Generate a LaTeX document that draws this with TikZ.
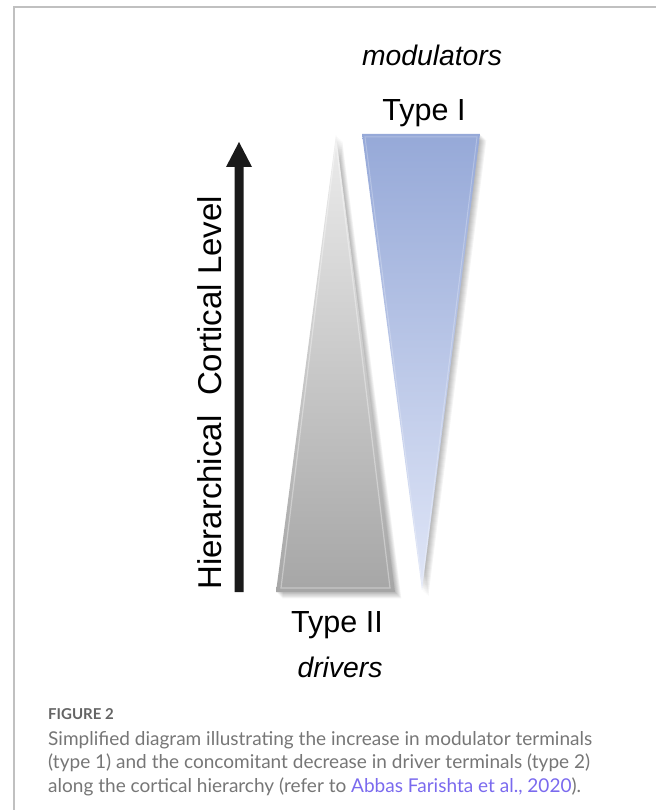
\documentclass[tikz,border=0pt]{standalone}
\usepackage{fontspec}
\setmainfont{Liberation Sans}
\newfontfamily\capfont{Lato}
\usetikzlibrary{calc}
\definecolor{bordergray}{RGB}{192,192,192}
\definecolor{arrowblack}{RGB}{26,26,26}
\definecolor{graytop}{RGB}{236,236,236}
\definecolor{graybot}{RGB}{166,166,166}
\definecolor{bluetop}{RGB}{150,169,216}
\definecolor{bluebot}{RGB}{224,230,247}
\definecolor{captext}{RGB}{118,118,118}
\definecolor{capfig}{RGB}{100,100,100}
\definecolor{linkcol}{RGB}{122,106,238}
\newlength\capwone
\settowidth\capwone{\capfont\fontsize{10}{12}\selectfont Simplified diagram illustrating the increase in modulator terminals}
\pgfmathsetmacro\capsize{10*544/\capwone}
\tikzset{
  lbl/.style={font=\fontsize{30.5}{34}\selectfont, text=black, inner sep=0pt},
  itlbl/.style={font=\fontsize{28.3}{32}\selectfont\itshape, text=black, inner sep=0pt},
  caption/.style={font=\capfont\fontsize{\capsize}{22}\selectfont, text=captext, inner sep=0pt, anchor=base west},
}
\begin{document}
\begin{tikzpicture}[x=1pt,y=-1pt]
\useasboundingbox (0,0) rectangle (655,810);
% frame
\draw[bordergray, line width=1.5pt] (14,812) -- (14,7) -- (656,7);

% gray triangle (drivers) with soft shadow
\foreach \k in {1,...,7}{
  \begin{scope}[shift={(\k*0.9,\k*0.9)}]
  \fill[black, opacity=0.045] (336,135) -- (395,592) -- (276,592) -- cycle;
  \end{scope}
}
\shade[top color=graytop, bottom color=graybot] (336,135) -- (395,592) -- (276,592) -- cycle;
\draw[white, opacity=0.35, line width=1.2pt] (336,142) -- (390,588) -- (281,588) -- cycle;

% blue triangle (modulators) with soft shadow
\foreach \k in {1,...,7}{
  \begin{scope}[shift={(\k*0.9,\k*0.9)}]
  \fill[black, opacity=0.045] (362,134) -- (480,134) -- (422,590) -- cycle;
  \end{scope}
}
\shade[top color=bluetop, bottom color=bluebot] (362,134) -- (480,134) -- (422,590) -- cycle;
\draw[white, opacity=0.25, line width=1pt] (365,137) -- (477,137) -- (422,584) -- cycle;

% arrow
\coordinate (abot) at (239,592);
\coordinate (atip) at (239,142);
\fill[arrowblack] (234.5,592) -- (234.5,167) -- (226,167) -- (atip) -- (252,167) -- (243.5,167) -- (243.5,592) -- cycle;

% labels
\node[lbl, rotate=90, anchor=base west, font=\fontsize{33}{38}\selectfont] (axis) at (221,590) {Hierarchical\hspace{0.6em}Cortical Level};
\node[itlbl, anchor=base] (mod) at (432,66) {modulators};
\node[lbl, anchor=base] (t1) at (424,121) {Type I};
\node[lbl, anchor=base] (t2) at (337,632) {Type II};
\node[itlbl, anchor=base] (drv) at (340,677) {drivers};

% caption
\node[caption, text=capfig, font=\capfont\bfseries\fontsize{15}{18}\selectfont] (fig) at (48,719) {FIGURE 2};
\node[caption] (c1) at (48,745) {Simplified diagram illustrating the increase in modulator terminals};
\node[caption] (c2) at (48,768.5) {(type 1) and the concomitant decrease in driver terminals (type 2)};
\node[caption] (c3) at (48,792) {along the cortical hierarchy (refer to \textcolor{linkcol}{Abbas Farishta et al., 2020}).};
\end{tikzpicture}
\end{document}
